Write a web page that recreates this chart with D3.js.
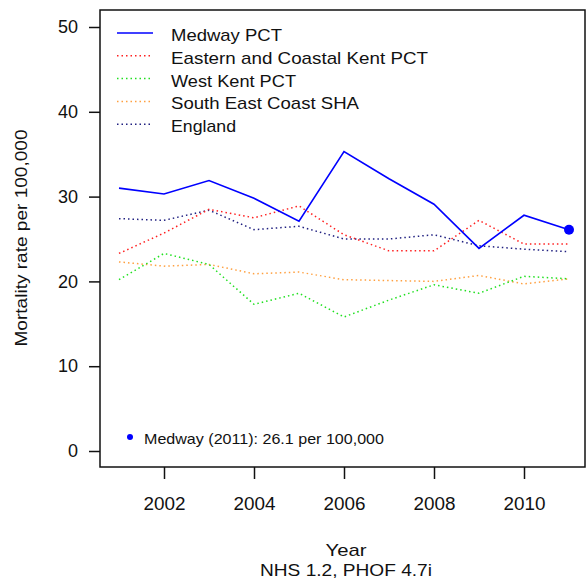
<!DOCTYPE html>
<html><head><meta charset="utf-8">
<script src="https://cdn.jsdelivr.net/npm/d3@7"></script>
<style>body{margin:0;background:#fff;} text{font-family:"Liberation Sans",Arial,sans-serif;fill:#111;}</style>
</head><body><svg id="c" width="586" height="580"></svg>
<script>
const years = [2001,2002,2003,2004,2005,2006,2007,2008,2009,2010,2011];
const medway = [31.0,30.3,31.9,29.8,27.1,35.3,32.1,29.1,23.9,27.8,26.1];
const eastKent = [23.3,25.7,28.5,27.5,28.9,25.5,23.6,23.6,27.2,24.4,24.4];
const westKent = [20.2,23.3,22.0,17.3,18.6,15.8,17.8,19.6,18.6,20.6,20.3];
const seCoast = [22.3,21.8,22.0,20.9,21.1,20.2,20.1,20.0,20.7,19.7,20.3];
const england = [27.4,27.2,28.4,26.1,26.5,25.0,25.0,25.5,24.2,23.8,23.5];
const seriesNames = ["Medway PCT","Eastern and Coastal Kent PCT","West Kent PCT","South East Coast SHA","England"];
const seriesColors = ["#0000ff","#ff2020","#20e020","#ffa040","#202080"];
const yTicks = [0,10,20,30,40,50];
const xTicks = [2002,2004,2006,2008,2010];

const svg = d3.select("#c");
const x = d3.scaleLinear().domain([2001,2011]).range([119,569]);
const y = d3.scaleLinear().domain([0,50]).range([451,27]);
const FS = 17;

// frame
svg.append("rect").attr("x",100).attr("y",10).attr("width",485).attr("height",457)
  .attr("fill","none").attr("stroke","#111").attr("stroke-width",1.5);

// axes
const ya = svg.append("g").attr("transform","translate(100,0)")
  .call(d3.axisLeft(y).tickValues(yTicks).tickSize(11).tickPadding(11));
const xa = svg.append("g").attr("transform","translate(0,467)")
  .call(d3.axisBottom(x).tickValues(xTicks).tickFormat(d3.format("d")).tickSize(12).tickPadding(18));
[ya,xa].forEach(a=>{
  a.select(".domain").remove();
  a.selectAll("line").attr("stroke","#111").attr("stroke-width",1.5);
  a.selectAll("text").style("font-family","Liberation Sans, Arial, sans-serif").style("font-size","18px").attr("fill","#111");
});
xa.selectAll("text").attr("textLength",42).attr("lengthAdjust","spacingAndGlyphs");

const all = [medway,eastKent,westKent,seCoast,england];
const line = d3.line().x((d,i)=>x(years[i])).y(d=>y(d));
[4,3,2,1,0].forEach(k=>{
  svg.append("path").datum(all[k]).attr("d",line).attr("fill","none")
    .attr("stroke",seriesColors[k]).attr("stroke-width",k===0?1.6:1.5)
    .attr("stroke-dasharray",k===0?null:"1.5,3");
});
svg.append("circle").attr("cx",x(2011)).attr("cy",y(medway[10])).attr("r",5).attr("fill","#0000ff");

// legend
const legendWidths = [111,257,125,188,65];
const lg = svg.append("g");
seriesNames.forEach((n,i)=>{
  const yy = 33 + i*22.8;
  lg.append("line").attr("x1",117).attr("x2",153).attr("y1",yy).attr("y2",yy)
    .attr("stroke",seriesColors[i]).attr("stroke-width",1.5)
    .attr("stroke-dasharray",i===0?null:"1.5,3");
  lg.append("text").attr("x",171).attr("y",yy+8).style("font-size",FS+"px")
    .attr("textLength",legendWidths[i]).attr("lengthAdjust","spacingAndGlyphs").text(n);
});

// annotation
svg.append("circle").attr("cx",130).attr("cy",437).attr("r",3).attr("fill","#0000ff");
svg.append("text").attr("x",144).attr("y",444).style("font-size","15px")
  .attr("textLength",240).attr("lengthAdjust","spacingAndGlyphs").text("Medway (2011): 26.1 per 100,000");

// axis titles
svg.append("text").attr("transform","translate(27,238) rotate(-90)").attr("text-anchor","middle")
  .style("font-size","16px").attr("textLength",217).attr("lengthAdjust","spacingAndGlyphs").text("Mortality rate per 100,000");
svg.append("text").attr("x",346).attr("y",556).attr("text-anchor","middle").style("font-size","17px")
  .attr("textLength",41).attr("lengthAdjust","spacingAndGlyphs").text("Year");
svg.append("text").attr("x",346).attr("y",576).attr("text-anchor","middle").style("font-size","17px")
  .attr("textLength",172).attr("lengthAdjust","spacingAndGlyphs").text("NHS 1.2, PHOF 4.7i");
</script></body></html>
